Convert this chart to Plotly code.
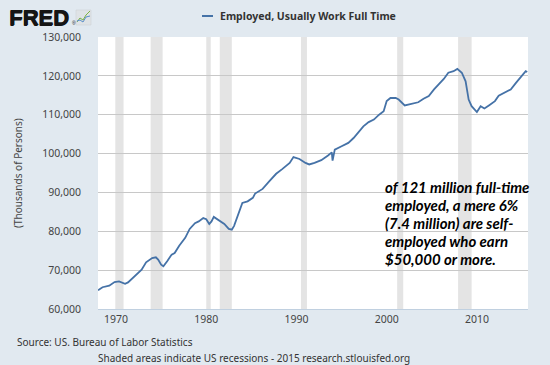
import plotly.graph_objects as go

dates = ["1968-01","1968-07","1969-04","1969-11","1970-05","1970-09","1971-01","1971-05",
         "1972-01","1972-11","1973-05","1974-01","1974-06","1974-09","1975-01","1975-04",
         "1975-09","1976-03","1976-07","1977-01","1977-09","1978-03","1978-10","1979-03",
         "1979-09","1980-01","1980-05","1980-08","1980-11","1981-06","1982-01","1982-07",
         "1982-11","1983-02","1983-06","1984-01","1984-08","1985-03","1985-06","1986-04",
         "1987-01","1987-10","1988-06","1989-04","1989-09","1990-05","1991-01","1991-06",
         "1992-01","1992-10","1993-07","1993-12","1994-01","1994-04","1995-01","1995-10",
         "1996-05","1996-11","1997-06","1998-01","1998-08","1999-03","1999-09","2000-01",
         "2000-06","2001-01","2001-05","2002-01","2002-06","2003-01","2003-07","2004-02",
         "2004-09","2005-04","2005-10","2006-05","2006-11","2007-06","2007-11","2008-05",
         "2008-10","2009-02","2009-06","2010-01","2010-06","2010-11","2011-05","2012-01",
         "2012-06","2013-04","2013-10","2014-05","2014-11","2015-06","2015-08"]
employed = [64800,65600,66000,66950,67100,66800,66500,66850,
            68400,70100,72000,73100,73300,72700,71400,71000,
            72300,74000,74400,76300,78300,80600,82100,82550,
            83400,83100,81900,82550,83700,82800,81900,80600,
            80400,81400,83400,87300,87700,88600,89700,90900,
            92900,94800,96000,97600,99100,98600,97600,97200,
            97600,98300,99500,100300,98200,101000,101900,102750,
            104000,105300,107000,108100,108750,110000,110900,113500,
            114300,114300,113900,112400,112600,112900,113200,114100,
            114800,116500,117800,119200,120800,121200,121800,120800,
            118600,113900,112200,110700,112200,111600,112400,113500,
            114900,116000,116500,118200,119500,121200,121000]

recession_start = ["1969-12-01","1973-11-01","1980-01-01","1981-07-01","1990-07-01","2001-03-01","2007-12-01"]
recession_end   = ["1970-11-01","1975-03-01","1980-07-01","1982-11-01","1991-03-01","2001-11-01","2009-06-01"]

y_ticks = [60000,70000,80000,90000,100000,110000,120000,130000]
x_ticks = ["1970-01-01","1980-01-01","1990-01-01","2000-01-01","2010-01-01"]
x_ticklabels = ["1970","1980","1990","2000","2010"]

series_name = "Employed, Usually Work Full Time"
note_lines = ["of 121 million full-time", "employed, a mere 6%", "(7.4 million) are self-",
              "employed who earn", "$50,000 or more."]

BG = "#e1e9f0"
LINE = "#4572a7"
W, H = 550, 365
ML, MR, MT, MB = 98, 22, 37, 56
PW, PH = W - ML - MR, H - MT - MB

def px(xp):
    return (xp - ML) / PW

def py(yp):
    return (H - MB - yp) / PH

fig = go.Figure()
fig.add_trace(go.Scatter(x=dates, y=employed, mode="lines", name=series_name,
                         line=dict(color=LINE, width=1.8), showlegend=False))

shapes = []
for s, e in zip(recession_start, recession_end):
    shapes.append(dict(type="rect", xref="x", yref="paper", x0=s, x1=e, y0=0, y1=1,
                       fillcolor="#e4e4e4", line=dict(width=0), layer="below"))

# legend line
shapes.append(dict(type="line", xref="paper", yref="paper", x0=px(202), x1=px(213),
                   y0=py(16), y1=py(16), line=dict(color=LINE, width=2)))
# FRED icon
shapes.append(dict(type="rect", xref="paper", yref="paper", x0=px(76), x1=px(91),
                   y0=py(25), y1=py(10), fillcolor="#dfe3e6", line=dict(color="#c8ccd0", width=0.5)))
shapes.append(dict(type="path", xref="paper", yref="paper",
                   path=f"M {px(77)} {py(22)} L {px(80)} {py(18)} L {px(83)} {py(20)} L {px(86)} {py(15)} L {px(90)} {py(11)}",
                   line=dict(color="#7cb342", width=1)))
shapes.append(dict(type="path", xref="paper", yref="paper",
                   path=f"M {px(77)} {py(21)} L {px(80)} {py(20)} L {px(83)} {py(22)} L {px(86)} {py(17)} L {px(90)} {py(16)}",
                   line=dict(color="#5b8fc9", width=1)))

annotations = [
    dict(text="<b>FRED</b>", xref="paper", yref="paper", x=px(7), y=py(17.5), xanchor="left",
         yanchor="middle", showarrow=False,
         font=dict(family="Liberation Sans", size=22, color="#151515",
                   shadow="0.7px 0 0 #151515, 0 0.5px 0 #151515")),
    dict(text="®", xref="paper", yref="paper", x=px(70), y=py(23), xanchor="left",
         yanchor="middle", showarrow=False, font=dict(family="Liberation Sans", size=5, color="#151515")),
    dict(text="<b>" + series_name + "</b>", xref="paper", yref="paper", x=px(218), y=py(16),
         xanchor="left", yanchor="middle", showarrow=False,
         font=dict(family="Noto Sans", size=10.5, color="#333333")),
    dict(text="(Thousands of Persons)", xref="paper", yref="paper", x=px(18), y=py(173),
         xanchor="center", yanchor="middle", textangle=-90, showarrow=False,
         font=dict(family="Noto Sans", size=10, color="#444444")),
    dict(text="Source: US. Bureau of Labor Statistics", xref="paper", yref="paper", x=px(15), y=py(342),
         xanchor="left", yanchor="middle", showarrow=False,
         font=dict(family="Noto Sans", size=10, color="#333333")),
    dict(text="Shaded areas indicate US recessions - 2015 research.stlouisfed.org", xref="paper", yref="paper",
         x=px(254), y=py(358), xanchor="center", yanchor="middle", showarrow=False,
         font=dict(family="Noto Sans", size=10, color="#333333")),
]
for i, line_text in enumerate(note_lines):
    annotations.append(dict(text="<b><i>" + line_text + "</i></b>", xref="paper", yref="paper",
                            x=px(383), y=py(187 + 17.9 * i), xanchor="left", yanchor="middle",
                            align="left", showarrow=False,
                            font=dict(family="Lato", size=15, color="#000000")))

fig.update_layout(
    width=W, height=H,
    margin=dict(l=ML, r=MR, t=MT, b=MB, pad=0),
    paper_bgcolor=BG, plot_bgcolor="#ffffff",
    shapes=shapes, annotations=annotations,
    xaxis=dict(type="date", range=["1968-01-01", "2015-09-01"], tickvals=x_ticks, ticktext=x_ticklabels,
               showgrid=False, showline=True, linecolor="#c0d0e0", linewidth=1, ticks="",
               zeroline=False, tickfont=dict(family="Noto Sans", size=10.5, color="#444444")),
    yaxis=dict(range=[60000, 130000], tickvals=y_ticks, tickformat=",d", showgrid=True,
               gridcolor="#c8c8c8", gridwidth=1, zeroline=False, showline=False, ticks="",
               ticklabelstandoff=16,
               tickfont=dict(family="Noto Sans", size=10.5, color="#444444")),
)

fig.write_html("out.html", config={"displayModeBar": False},
               post_script="document.body.style.margin='0';document.body.style.padding='0';"
                           "document.body.style.background='" + BG + "';"
                           "document.documentElement.style.overflow='hidden';")
